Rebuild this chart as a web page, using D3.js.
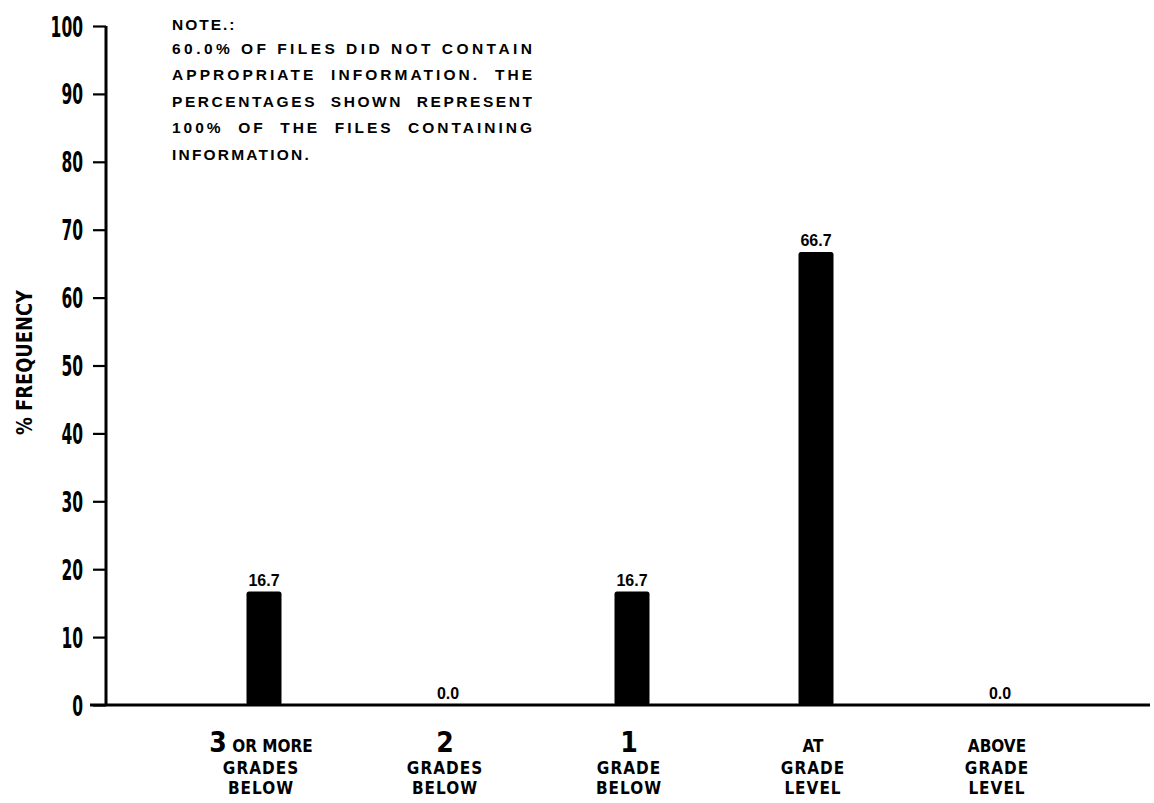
<!DOCTYPE html>
<html>
<head>
<meta charset="utf-8">
<script src="https://cdn.jsdelivr.net/npm/d3@7"></script>
<style>
  html, body { margin: 0; padding: 0; background: #fff; }
  svg { display: block; }
  .cond { font-family: "Liberation Sans Narrow", "DejaVu Sans Condensed", "Arial Narrow", sans-serif; font-weight: bold; }
  .plain { font-family: "Liberation Sans", Arial, Helvetica, sans-serif; font-weight: bold; }
</style>
</head>
<body>
<svg id="chart" width="1154" height="803"></svg>
<script>
// Grade placement distribution (% of files with information)
const categories = ["3 OR MORE GRADES BELOW", "2 GRADES BELOW", "1 GRADE BELOW", "AT GRADE LEVEL", "ABOVE GRADE LEVEL"];
const categoryLines = [
  [["3", " OR MORE"], ["GRADES"], ["BELOW"]],
  [["2", ""], ["GRADES"], ["BELOW"]],
  [["1", ""], ["GRADE"], ["BELOW"]],
  [["", "AT"], ["GRADE"], ["LEVEL"]],
  [["", "ABOVE"], ["GRADE"], ["LEVEL"]]
];
const values = [16.7, 0.0, 16.7, 66.7, 0.0];
const yTicks = [0, 10, 20, 30, 40, 50, 60, 70, 80, 90, 100];
const noteLines = [
  "NOTE.:",
  "60.0% OF FILES DID NOT CONTAIN",
  "APPROPRIATE  INFORMATION.  THE",
  "PERCENTAGES  SHOWN  REPRESENT",
  "100%  OF  THE  FILES  CONTAINING",
  "INFORMATION."
];

const svg = d3.select("#chart");

const y = d3.scaleLinear().domain([0, 100]).range([705, 26]);
const x = d3.scaleBand().domain(categories).range([172, 1092]).paddingInner(0.81).paddingOuter(0.405);

// baseline
svg.append("line")
  .attr("x1", 90).attr("x2", 1150)
  .attr("y1", y(0)).attr("y2", y(0))
  .attr("stroke", "#000").attr("stroke-width", 3);

// y axis
const yAxis = d3.axisLeft(y).tickValues(yTicks).tickSize(13).tickPadding(10).tickFormat(d3.format("d"));
const gy = svg.append("g").attr("transform", "translate(106,0)").call(yAxis);
gy.select(".domain").attr("stroke", "#000").attr("stroke-width", 3).attr("d", `M0,${y(100)}V${y(0)}`);
gy.selectAll(".tick line").attr("stroke", "#000").attr("stroke-width", 2.2);
gy.selectAll(".tick text")
  .attr("class", "cond")
  .attr("fill", "#000")
  .style("font-size", "28px")
  .attr("dy", "0.36em")
  .attr("lengthAdjust", "spacingAndGlyphs")
  .attr("textLength", d => String(d).length * 10.8);

// axis title
svg.append("text")
  .attr("class", "cond")
  .attr("transform", `translate(32,${(290 + 435) / 2}) rotate(-90)`)
  .attr("text-anchor", "middle")
  .style("font-size", "21px")
  .attr("lengthAdjust", "spacingAndGlyphs")
  .attr("textLength", 145)
  .text("% FREQUENCY");

// bars
const barW = 35;
svg.append("g").selectAll("rect")
  .data(values.map((v, i) => ({ c: categories[i], v })))
  .join("rect")
  .attr("x", d => x(d.c) + x.bandwidth() / 2 - barW / 2)
  .attr("width", barW)
  .attr("y", d => y(d.v))
  .attr("height", d => y(0) - y(d.v))
  .attr("rx", d => d.v > 0 ? 2.5 : 0)
  .attr("fill", "#000");

// value labels
svg.append("g").selectAll("text")
  .data(values.map((v, i) => ({ c: categories[i], v })))
  .join("text")
  .attr("class", "plain")
  .attr("x", d => x(d.c) + x.bandwidth() / 2)
  .attr("y", d => y(d.v) - 6)
  .attr("text-anchor", "middle")
  .style("font-size", "16px")
  .text(d => d.v.toFixed(1));

// category labels
const catG = svg.append("g");
categories.forEach((c, i) => {
  const cx = x(c) + x.bandwidth() / 2 - 3;
  const lines = categoryLines[i];
  const t1 = catG.append("text").attr("class", "cond")
    .attr("x", cx).attr("y", 752).attr("text-anchor", "middle");
  if (lines[0][0]) t1.append("tspan").style("font-size", "28px").text(lines[0][0]);
  if (lines[0][1]) t1.append("tspan").style("font-size", "17px").text(lines[0][1]);
  catG.append("text").attr("class", "cond")
    .attr("x", cx).attr("y", 774).attr("text-anchor", "middle")
    .style("font-size", "17px").style("letter-spacing", "1px").text(lines[1][0]);
  catG.append("text").attr("class", "cond")
    .attr("x", cx).attr("y", 794).attr("text-anchor", "middle")
    .style("font-size", "17px").style("letter-spacing", "1px").text(lines[2][0]);
});

// note block
const noteG = svg.append("g").attr("class", "plain");
const noteY = [30, 54, 80, 107, 133, 160];
noteLines.forEach((l, i) => {
  const t = noteG.append("text")
    .attr("x", 172).attr("y", noteY[i])
    .style("font-size", "15.5px")
    .style("white-space", "pre")
    .attr("xml:space", "preserve")
    .text(l);
  if (i >= 1 && i <= 4) t.attr("textLength", 360).attr("lengthAdjust", "spacing");
  if (i === 0) t.style("letter-spacing", "2px");
  if (i === 5) t.style("letter-spacing", "2.2px");
});
</script>
</body>
</html>
